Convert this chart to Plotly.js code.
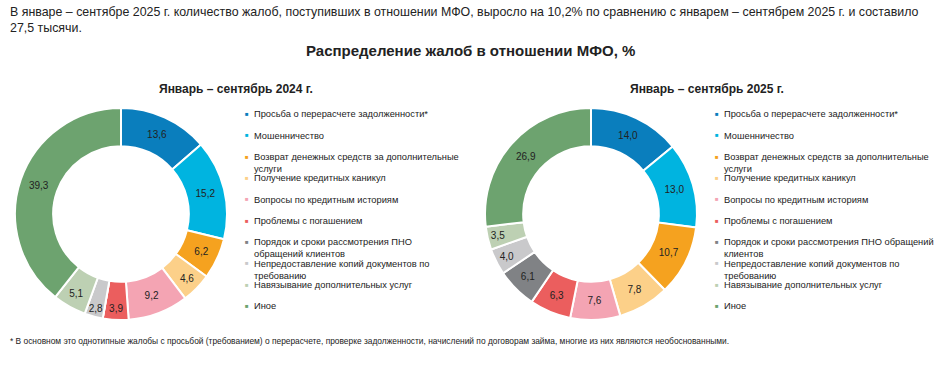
<!DOCTYPE html>
<html>
<head>
<meta charset="utf-8">
<script src="https://cdn.plot.ly/plotly-3.0.1.min.js"></script>
<style>html,body{margin:0;padding:0;background:#fff;}#chart{width:940px;height:376px;}</style>
</head>
<body>
<div id="chart"></div>
<script>
const categories = [
  "Просьба о перерасчете задолженности*",
  "Мошенничество",
  "Возврат денежных средств за дополнительные услуги",
  "Получение кредитных каникул",
  "Вопросы по кредитным историям",
  "Проблемы с погашением",
  "Порядок и сроки рассмотрения ПНО обращений клиентов",
  "Непредоставление копий документов по требованию",
  "Навязывание дополнительных услуг",
  "Иное"
];
const legendLabels2024 = [
  "Просьба о перерасчете задолженности*",
  "Мошенничество",
  "Возврат денежных средств за дополнительные<br>услуги",
  "Получение кредитных каникул",
  "Вопросы по кредитным историям",
  "Проблемы с погашением",
  "Порядок и сроки рассмотрения ПНО<br>обращений клиентов",
  "Непредоставление копий документов по<br>требованию",
  "Навязывание дополнительных услуг",
  "Иное"
];
const legendLabels2025 = [
  "Просьба о перерасчете задолженности*",
  "Мошенничество",
  "Возврат денежных средств за дополнительные<br>услуги",
  "Получение кредитных каникул",
  "Вопросы по кредитным историям",
  "Проблемы с погашением",
  "Порядок и сроки рассмотрения ПНО обращений<br>клиентов",
  "Непредоставление копий документов по<br>требованию",
  "Навязывание дополнительных услуг",
  "Иное"
];
const values2024 = [13.6, 15.2, 6.2, 4.6, 9.2, 3.9, 0, 2.8, 5.1, 39.3];
const values2025 = [14.0, 13.0, 10.7, 7.8, 7.6, 6.3, 6.1, 4.0, 3.5, 26.9];
const colors = ["#0A7EBD", "#00B4E0", "#F5A21F", "#FCD089", "#F4A4B3", "#EB5E5E", "#808285", "#C9C9CB", "#BDD0B3", "#6DA36F"];

const W = 940, H = 376;
const FONT = "Liberation Sans, Arial, sans-serif";

function pie(values, cx, cy, r) {
  return {
    type: "pie",
    values: values,
    labels: categories,
    sort: false,
    direction: "clockwise",
    rotation: 0,
    hole: 0.64,
    domain: {x: [(cx - r) / W, (cx + r) / W], y: [(H - cy - r) / H, (H - cy + r) / H]},
    marker: {colors: colors, line: {color: "#ffffff", width: 2}},
    texttemplate: values.map(v => v > 0 ? "%{value:.1f}" : ""),
    textposition: "inside",
    insidetextorientation: "horizontal",
    textfont: {family: FONT, size: 10, color: "#222222"},
    hoverinfo: "label+value",
    showlegend: false
  };
}

const annotations = [];
function legend(labels, xMarker, y0, step) {
  labels.forEach((lab, i) => {
    const y = y0 + i * step;
    annotations.push({
      xref: "paper", yref: "paper", x: xMarker / W, y: 1 - y / H,
      xanchor: "center", yanchor: "middle", showarrow: false,
      text: "■", font: {family: FONT, size: 6, color: colors[i]}
    });
    annotations.push({
      xref: "paper", yref: "paper", x: (xMarker + 5) / W, y: 1 - (y - 6.5) / H,
      xanchor: "left", yanchor: "top", align: "left", showarrow: false,
      text: lab, font: {family: FONT, size: 9.3, color: "#222222"}
    });
  });
}
legend(legendLabels2024, 247, 114, 21.33);
legend(legendLabels2025, 717, 114, 21.33);

annotations.push({
  xref: "paper", yref: "paper", x: 8 / W, y: 1 - 3 / H, xanchor: "left", yanchor: "top", align: "left", showarrow: false,
  text: "В январе – сентябре 2025 г. количество жалоб, поступивших в отношении МФО, выросло на 10,2% по сравнению с январем – сентябрем 2025 г. и составило<br>27,5 тысячи.",
  font: {family: FONT, size: 12.4, color: "#222222"}
});
annotations.push({
  xref: "paper", yref: "paper", x: 470 / W, y: 1 - 50 / H, xanchor: "center", yanchor: "middle", showarrow: false,
  text: "<b>Распределение жалоб в отношении МФО, %</b>",
  font: {family: FONT, size: 15, color: "#222222"}
});
annotations.push({
  xref: "paper", yref: "paper", x: 236 / W, y: 1 - 89 / H, xanchor: "center", yanchor: "middle", showarrow: false,
  text: "<b>Январь – сентябрь 2024 г.</b>",
  font: {family: FONT, size: 12, color: "#222222"}
});
annotations.push({
  xref: "paper", yref: "paper", x: 707 / W, y: 1 - 89 / H, xanchor: "center", yanchor: "middle", showarrow: false,
  text: "<b>Январь – сентябрь 2025 г.</b>",
  font: {family: FONT, size: 12, color: "#222222"}
});
annotations.push({
  xref: "paper", yref: "paper", x: 8 / W, y: 1 - 341 / H, xanchor: "left", yanchor: "middle", showarrow: false,
  text: "* В основном это однотипные жалобы с просьбой (требованием) о перерасчете, проверке задолженности, начислений по договорам займа, многие из них являются необоснованными.",
  font: {family: FONT, size: 8.4, color: "#222222"}
});

const data = [pie(values2024, 121, 214, 106), pie(values2025, 591, 214, 106)];
const layout = {
  width: W, height: H,
  margin: {l: 0, r: 0, t: 0, b: 0},
  paper_bgcolor: "#ffffff",
  separators: ", ",
  showlegend: false,
  uniformtext: {mode: "show", minsize: 10},
  annotations: annotations
};
Plotly.newPlot("chart", data, layout, {displayModeBar: false, staticPlot: true});
</script>
</body>
</html>
